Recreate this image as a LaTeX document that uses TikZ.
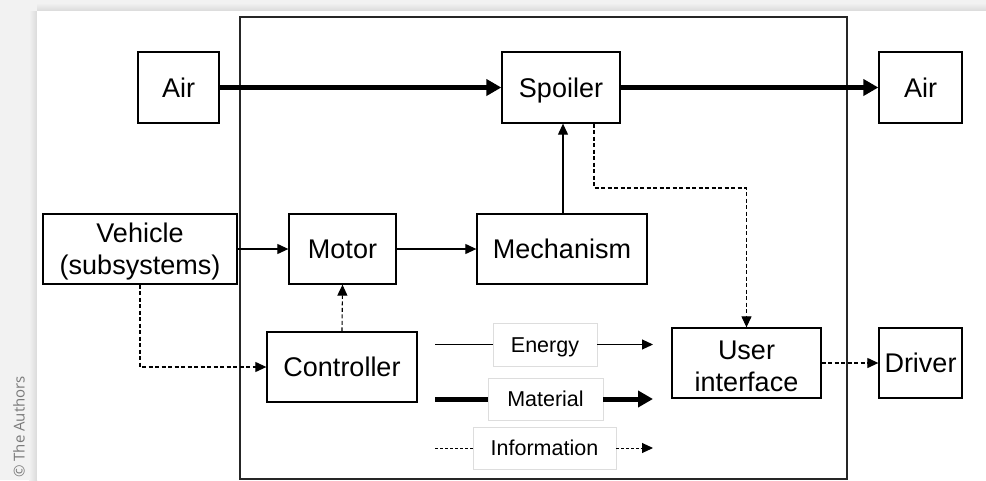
\documentclass[tikz,border=0pt]{standalone}
\usepackage{fontspec}
\setmainfont{Liberation Sans}
\newfontfamily\copyfont{Open Sans}
\usetikzlibrary{arrows.meta,calc}
\definecolor{bgshade}{HTML}{F2F2F2}
\definecolor{shadowdark}{HTML}{DADADA}
\definecolor{legborder}{HTML}{DDDDDD}
\definecolor{copygray}{HTML}{7A7A7A}
\begin{document}
\begin{tikzpicture}[x=1pt,y=-1pt,
  blockbase/.style={draw=black, line width=1.3pt, fill=white, inner sep=0pt,
    font=\fontsize{27}{32}\selectfont},
  blockbox/.style={blockbase, text height=19.4pt, text depth=0pt},
  twotext/.style={inner sep=0pt, align=center, font=\fontsize{27}{32}\selectfont, yshift=-3pt},
  legbox/.style={draw=legborder, line width=0.8pt, fill=white, inner sep=0pt,
    text height=15.4pt, text depth=0pt, font=\fontsize{21.5}{23}\selectfont},
  thinflow/.style={line width=1.1pt, -{Triangle[length=11pt,width=10pt]}},
  thickflow/.style={line width=5pt, -{Triangle[length=15pt,width=16pt]}},
  infoflow/.style={line width=1.1pt, dash pattern=on 4pt off 2.5pt, -{Triangle[length=11pt,width=10pt]}},
]
\useasboundingbox (0,0) rectangle (986,480);
% background and card shadow
\fill[bgshade] (0,0) rectangle (986,480);
\shade[top color=bgshade, bottom color=shadowdark] (37,3) rectangle (986,11);
\shade[left color=bgshade, right color=shadowdark] (29,11) rectangle (37,480);
\fill[white] (37,11) rectangle (986,480);
\node[copygray, rotate=90, anchor=west, inner sep=0pt, font=\copyfont\fontsize{15}{17}\selectfont] (copy) at (19,478) {© The Authors};

% system boundary
\draw[line width=1.8pt, draw=black!85] (240,17) rectangle (847,479);

% blocks
\node[blockbox, minimum width=81pt, minimum height=71pt] (airL) at (178.5,87.5) {Air};
\node[blockbox, minimum width=118pt, minimum height=71pt] (spoiler) at (561,87.5) {Spoiler};
\node[blockbox, minimum width=83pt, minimum height=71pt] (airR) at (920.5,87.5) {Air};
\node[blockbase, minimum width=194pt, minimum height=70pt] (vehicle) at (140,249) {};
\node[twotext] (vehicletext) at (vehicle.center) {Vehicle\\(subsystems)};
\node[blockbox, minimum width=107pt, minimum height=70pt] (motor) at (342.5,249) {Motor};
\node[blockbox, minimum width=170pt, minimum height=70pt] (mech) at (562,249) {Mechanism};
\node[blockbox, minimum width=150pt, minimum height=70pt] (ctrl) at (342,367) {Controller};
\node[blockbase, minimum width=149pt, minimum height=70pt] (ui) at (746.5,363) {};
\node[twotext] (uitext) at (ui.center) {User\\interface};
\node[blockbox, minimum width=83pt, minimum height=70pt] (driver) at (920.5,363) {Driver};

% flows
\draw[thickflow] (airL.east) -- (spoiler.west);
\draw[thickflow] (spoiler.east) -- (airR.west);
\draw[thinflow] (vehicle.east) -- (motor.west);
\draw[thinflow] (motor.east) -- (mech.west);
\draw[thinflow] (mech.north -| 563,0) -- (spoiler.south -| 563,0);
\draw[infoflow] (ctrl.north) -- (motor.south);
\draw[infoflow] (vehicle.south) |- (ctrl.west);
\coordinate (spbend) at (594,188);
\draw[infoflow] (spoiler.south -| spbend) -- (spbend) -| (ui.north);
\draw[infoflow] (ui.east) -- (driver.west);

% legend
\node[legbox, minimum width=104pt, minimum height=43pt] (legE) at (545,344.5) {Energy};
\node[legbox, minimum width=115pt, minimum height=42pt] (legM) at (545.5,399) {Material};
\node[legbox, minimum width=143pt, minimum height=42pt] (legI) at (544.5,448) {Information};
\coordinate (eS) at (435,344.5);
\coordinate (eE) at (653,344.5);
\coordinate (mS) at (435,399);
\coordinate (mE) at (653,399);
\coordinate (iS) at (435,448);
\coordinate (iE) at (653,448);
\draw[line width=1.1pt] (eS) -- (legE.west);
\draw[thinflow] (legE.east) -- (eE);
\draw[line width=5pt] (mS) -- (legM.west);
\draw[thickflow] (legM.east) -- (mE);
\draw[line width=1pt, dash pattern=on 3pt off 2pt] (iS) -- (legI.west);
\draw[line width=1pt, dash pattern=on 3pt off 2pt, -{Triangle[length=11pt,width=10pt]}] (legI.east) -- (iE);
\end{tikzpicture}
\end{document}
